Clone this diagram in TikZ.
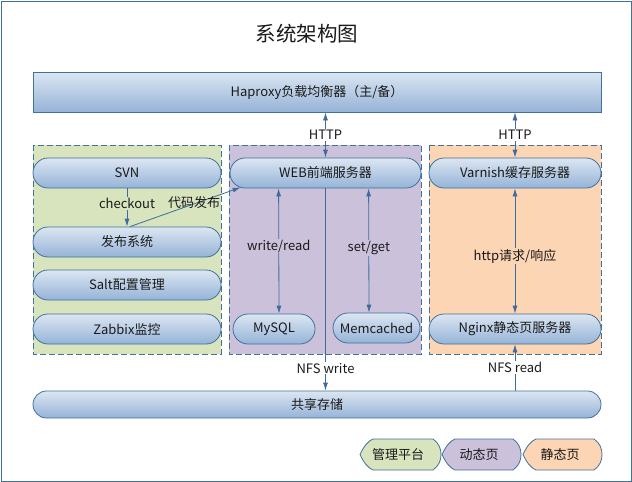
\documentclass[tikz,border=0pt]{standalone}
\usepackage{fontspec}
\setmainfont{Noto Sans CJK SC}
\usetikzlibrary{arrows.meta,calc}
\definecolor{bord}{HTML}{41719C}
\definecolor{arrc}{HTML}{3E6C9D}
\definecolor{grn}{HTML}{D7E4BD}
\definecolor{pur}{HTML}{CCC1DA}
\definecolor{org}{HTML}{FCD5B5}
\definecolor{pillt}{HTML}{DCE6F2}
\definecolor{pillb}{HTML}{95B3D7}
\definecolor{txt}{HTML}{1A1A1A}
\tikzset{
  pill/.style={draw=bord, line width=0.8pt, rounded corners=15pt, top color=pillt, bottom color=pillb, minimum height=30pt, inner sep=0pt, text=txt},
  grp/.style={draw=bord, dash pattern=on 6pt off 3pt, line width=0.8pt},
  arr/.style={draw=arrc, line width=0.8pt, -{Latex[length=8pt,width=5pt]}},
  dbl/.style={draw=arrc, line width=0.8pt, {Latex[length=8pt,width=5pt]}-{Latex[length=8pt,width=5pt]}},
  lbl/.style={inner sep=1pt, text=txt},
  leg/.style={draw=bord, line width=0.8pt}
}
\begin{document}
\begin{tikzpicture}[x=1pt,y=-1pt,font=\fontsize{13}{15}\selectfont]
\useasboundingbox (0,0) rectangle (632,482);
\draw[bord, line width=1pt] (1,1) rectangle (631,481);
\node[text=txt] (title) at (307,34) {\fontsize{20.5}{24}\selectfont 系统架构图};
% groups
\draw[grp, fill=grn] (33,145) rectangle (221,354);
\draw[grp, fill=pur] (229,145) rectangle (421,354);
\draw[grp, fill=org] (429,145) rectangle (601,354);
% top box
\node[draw=bord, line width=0.8pt, top color=pillt, bottom color=pillb, minimum width=568pt, minimum height=40pt, inner sep=0pt, text=txt] (hap) at (317,92) {Haproxy负载均衡器（主/备）};
% left pills
\node[pill, minimum width=188pt] (svn) at (127,173) {SVN};
\node[pill, minimum width=188pt] (fabu) at (127,242) {发布系统};
\node[pill, minimum width=188pt] (salt) at (127,285) {Salt配置管理};
\node[pill, minimum width=188pt] (zabbix) at (127,329) {Zabbix监控};
% middle pills
\node[pill, minimum width=191pt] (web) at (325.5,173) {WEB前端服务器};
\node[pill, minimum width=82pt] (mysql) at (274,329) {MySQL};
\node[pill, minimum width=87pt] (memc) at (376.5,328) {Memcached};
% right pills
\node[pill, minimum width=172pt] (varnish) at (515,173) {Varnish缓存服务器};
\node[pill, minimum width=172pt] (nginx) at (515,329) {Nginx静态页服务器};
% shared storage
\node[pill, rounded corners=13.5pt, minimum width=568pt, minimum height=27pt] (shared) at (317,404.5) {共享存储};
% connectors
\draw[dbl] (web.north |- hap.south) -- (web.north) node[midway, fill=white, lbl] {HTTP};
\draw[dbl] (varnish.north |- hap.south) -- (varnish.north) node[midway, fill=white, lbl] {HTTP};
\draw[arr] (svn.south) -- (fabu.north) node[pos=0.4, fill=grn, lbl] {checkout};
\draw[arr] ([xshift=3pt]fabu.north) -- ([xshift=11pt,yshift=1pt]web.south west) node[pos=0.58, yshift=1.5pt, lbl, inner sep=0pt] {代码发布};
\draw[dbl] ([xshift=49pt]web.south west) -- ([xshift=5pt]mysql.north) node[pos=0.46, fill=pur, lbl] {write/read};
\draw[dbl] ([xshift=139pt]web.south west) -- ([xshift=-7.5pt]memc.north) node[pos=0.48, fill=pur, lbl] {set/get};
\draw[arr] (web.south) -- (web.south |- shared.north) node[pos=0.89, fill=white, lbl] {NFS write};
\draw[dbl] (varnish.south) -- (nginx.north) node[pos=0.54, fill=org, lbl] {http请求/响应};
\draw[arr] (nginx.south |- shared.north) -- (nginx.south) node[midway, fill=white, lbl] {NFS read};
% legend
\draw[leg, fill=grn] (360,454.5) .. controls (364,446) and (368,441) .. (373,439) -- (433,439) .. controls (439,443) and (441,449) .. (441,454.5) .. controls (441,460) and (439,466) .. (433,470) -- (373,470) .. controls (368,468) and (364,463) .. (360,454.5) -- cycle;
\draw[leg, fill=pur] (442,454.5) .. controls (446,446) and (450,441) .. (455,439) -- (513,439) .. controls (519,443) and (521,449) .. (521,454.5) .. controls (521,460) and (519,466) .. (513,470) -- (455,470) .. controls (450,468) and (446,463) .. (442,454.5) -- cycle;
\draw[leg, fill=org] (523,454.5) .. controls (527,446) and (531,441) .. (536,439) -- (594,439) .. controls (600,443) and (602,449) .. (602,454.5) .. controls (602,460) and (600,466) .. (594,470) -- (536,470) .. controls (531,468) and (527,463) .. (523,454.5) -- cycle;
\node[lbl] (lg1) at (398,454.5) {管理平台};
\node[lbl] (lg2) at (479,454.5) {动态页};
\node[lbl] (lg3) at (560,454.5) {静态页};
\end{tikzpicture}
\end{document}
